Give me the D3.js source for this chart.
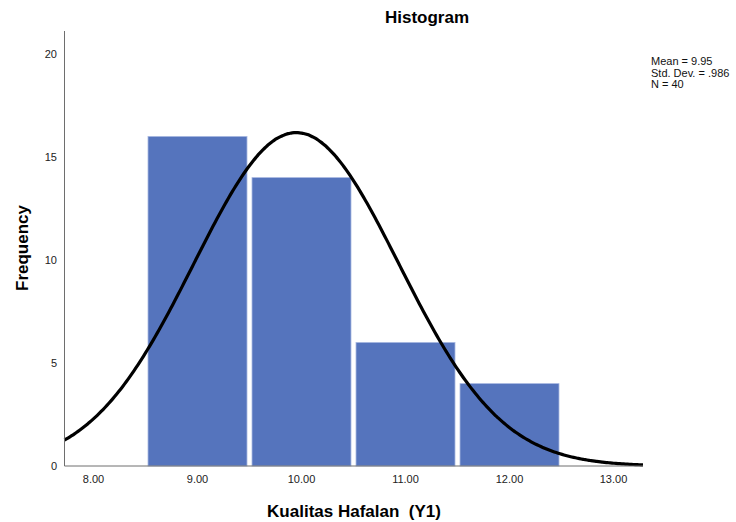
<!DOCTYPE html>
<html>
<head>
<meta charset="utf-8">
<script src="https://cdn.jsdelivr.net/npm/d3@7"></script>
<style>
  body { margin: 0; background: #fff; }
  text { font-family: "Liberation Sans", Arial, sans-serif; }
</style>
</head>
<body>
<div id="chart"></div>
<script>
// histogram bins (bin centre) and counts
const binCenters = [9, 10, 11, 12];
const counts = [16, 14, 6, 4];
const xTicks = [8, 9, 10, 11, 12, 13];
const yTicks = [0, 5, 10, 15, 20];
const mean = 9.95, stdDev = 0.986, n = 40;
const statLines = ["Mean = 9.95", "Std. Dev. = .986", "N = 40"];

const W = 736, H = 522;
const svg = d3.select("#chart").append("svg")
    .attr("width", W).attr("height", H);

// plot frame
const plotLeft = 64.5, plotRight = 643, plotTop = 31, plotBottom = 466;

var x = d3.scaleLinear().domain([8, 13]).range([93.5, 613.5]);
var y = d3.scaleLinear().domain([0, 20]).range([plotBottom, 54]);

// bars
svg.selectAll("rect.bar")
    .data(binCenters)
    .enter()
    .append("rect")
        .attr("class", "bar")
        .attr("x", (d) => x(d - 0.5) + 2.5)
        .attr("y", (d, i) => y(counts[i]))
        .attr("width", (d) => x(d + 0.5) - x(d - 0.5) - 5)
        .attr("height", (d, i) => plotBottom - y(counts[i]))
        .attr("fill", "#5574bd")
        .attr("stroke", "#a9b9e2")
        .attr("stroke-width", 0.8);

// normal curve
const x0 = x.invert(plotLeft), x1 = x.invert(plotRight);
const curvePts = d3.range(0, 301).map(i => {
    const v = x0 + (x1 - x0) * i / 300;
    const f = n * 1 / (stdDev * Math.sqrt(2 * Math.PI)) * Math.exp(-0.5 * ((v - mean) / stdDev) ** 2);
    return [v, f];
});
svg.append("path")
    .datum(curvePts)
    .attr("fill", "none")
    .attr("stroke", "#000")
    .attr("stroke-width", 3.2)
    .attr("d", d3.line().x(d => x(d[0])).y(d => y(d[1])).curve(d3.curveBasis));

// axes lines
svg.append("line")
    .attr("x1", plotLeft).attr("x2", plotLeft).attr("y1", plotTop).attr("y2", plotBottom)
    .attr("stroke", "#6e6e6e").attr("stroke-width", 1);
svg.append("line")
    .attr("x1", plotLeft).attr("x2", plotRight).attr("y1", plotBottom).attr("y2", plotBottom)
    .attr("stroke", "#6e6e6e").attr("stroke-width", 1);

// tick labels
svg.selectAll("text.yt")
    .data(yTicks)
    .enter().append("text")
        .attr("x", 57).attr("y", d => y(d) + 4)
        .attr("text-anchor", "end")
        .style("font-size", "11px").attr("fill", "#222")
        .text(d => d);
svg.selectAll("text.xt")
    .data(xTicks)
    .enter().append("text")
        .attr("x", d => x(d)).attr("y", 483)
        .attr("text-anchor", "middle")
        .style("font-size", "11px").attr("fill", "#222")
        .text(d => d3.format(".2f")(d));

// titles
svg.append("text")
    .attr("x", 427).attr("y", 23)
    .attr("text-anchor", "middle")
    .style("font-size", "17px").style("font-weight", "bold")
    .text("Histogram");
svg.append("text")
    .attr("transform", "translate(28,248)rotate(-90)")
    .attr("text-anchor", "middle")
    .style("font-size", "17px").style("font-weight", "bold")
    .text("Frequency");
svg.append("text")
    .attr("x", 354).attr("y", 517)
    .attr("text-anchor", "middle")
    .style("font-size", "17px").style("font-weight", "bold")
    .text("Kualitas Hafalan\u00a0 (Y1)");

// stats box
svg.selectAll("text.stat")
    .data(statLines)
    .enter().append("text")
        .attr("x", 651).attr("y", (d, i) => 65 + i * 11.5)
        .style("font-size", "11px").attr("fill", "#111")
        .text(d => d);
</script>
</body>
</html>
